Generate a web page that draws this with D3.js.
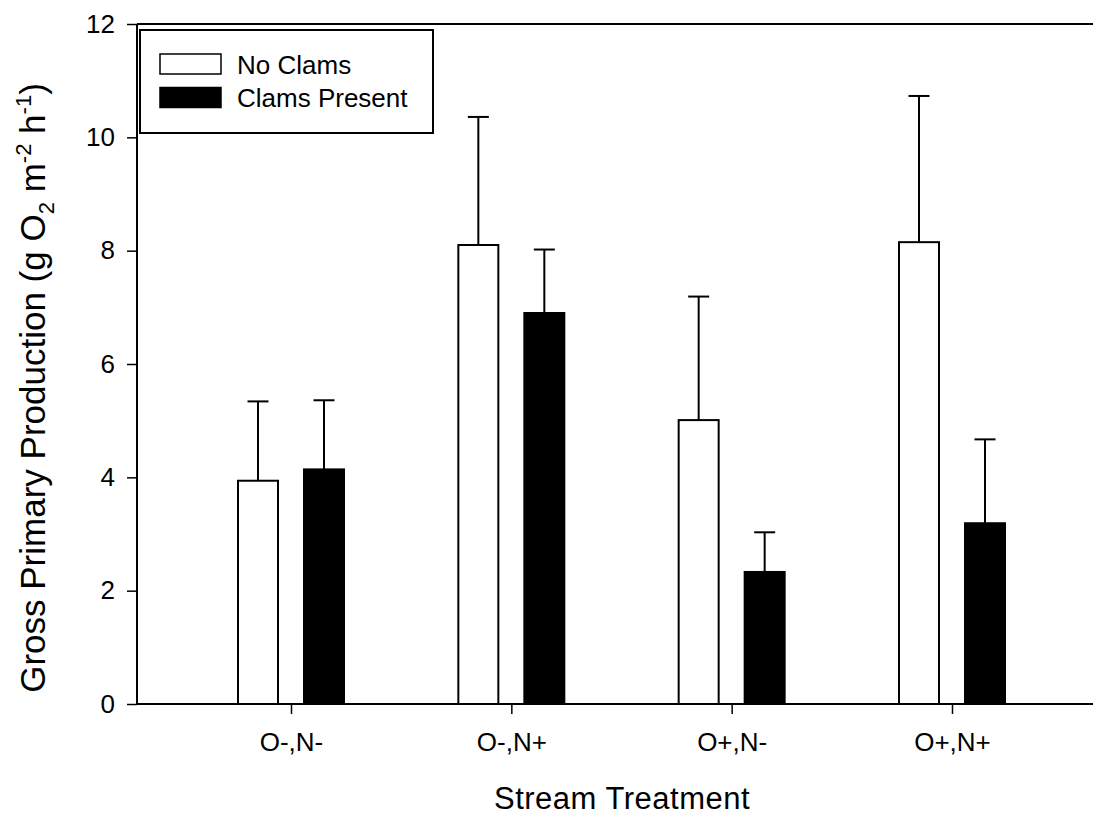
<!DOCTYPE html>
<html>
<head>
<meta charset="utf-8">
<script src="https://cdn.jsdelivr.net/npm/d3@7"></script>
<style>
  body { margin: 0; background: #fff; }
  svg { font-family: "Liberation Sans", Arial, sans-serif; }
</style>
</head>
<body>
<svg id="chart" width="1093" height="816"></svg>
<script>
// data
const categories = ["O-,N-", "O-,N+", "O+,N-", "O+,N+"];
const seriesNames = ["No Clams", "Clams Present"];
const noClams = [3.94, 8.10, 5.01, 8.15];
const noClamsErr = [1.40, 2.26, 2.18, 2.58];
const clams = [4.14, 6.90, 2.33, 3.19];
const clamsErr = [1.22, 1.12, 0.70, 1.48];
const yTicks = [0, 2, 4, 6, 8, 10, 12];

const width = 1093, height = 816;
const margin = { top: 24, right: 0, bottom: 112, left: 137 };
const fills = ["#ffffff", "#000000"];

const svg = d3.select("#chart");

const y = d3.scaleLinear([0, 12], [height - margin.bottom, margin.top]);
const x = d3.scalePoint(categories, [291, 952]);
const xSub = d3.scaleBand(seriesNames, [-53, 53]).paddingInner(26 / 66);

const rows = [];
categories.forEach((c, i) => {
  rows.push({ cat: c, s: seriesNames[0], v: noClams[i], e: noClamsErr[i] });
  rows.push({ cat: c, s: seriesNames[1], v: clams[i], e: clamsErr[i] });
});

// y axis
svg.append("g")
  .attr("transform", `translate(${margin.left},0)`)
  .call(d3.axisLeft(y).tickValues(yTicks).tickSize(10).tickPadding(12).tickFormat(d3.format("d")))
  .call(g => g.select(".domain").attr("stroke-width", 2).attr("d", `M0,${y(0)}V${y(12)}`))
  .call(g => g.selectAll(".tick line").attr("stroke-width", 1.5))
  .call(g => g.selectAll(".tick text").attr("font-size", 26).attr("fill", "#000").attr("font-family", "Liberation Sans, Arial, sans-serif"));

// x axis
svg.append("g")
  .attr("transform", `translate(0,${y(0)})`)
  .call(d3.axisBottom(x).tickSize(10).tickPadding(19))
  .call(g => g.select(".domain").attr("stroke-width", 2).attr("d", `M${margin.left},0H${width}`))
  .call(g => g.selectAll(".tick line").attr("stroke-width", 1.5))
  .call(g => g.selectAll(".tick text").attr("font-size", 26).attr("fill", "#000").attr("font-family", "Liberation Sans, Arial, sans-serif"));

// top frame line
svg.append("line")
  .attr("x1", margin.left).attr("x2", width)
  .attr("y1", y(12)).attr("y2", y(12))
  .attr("stroke", "#000").attr("stroke-width", 2);

// error bars (drawn first so bars cover the stem base)
const eb = svg.append("g").attr("stroke", "#000").attr("stroke-width", 2)
  .selectAll("g").data(rows).join("g")
  .attr("transform", d => `translate(${x(d.cat) + xSub(d.s) + xSub.bandwidth() / 2},0)`);
eb.append("line").attr("y1", d => y(d.v)).attr("y2", d => y(d.v + d.e));
eb.append("line").attr("x1", -10.5).attr("x2", 10.5)
  .attr("y1", d => y(d.v + d.e)).attr("y2", d => y(d.v + d.e));

// bars
svg.append("g").selectAll("rect").data(rows).join("rect")
  .attr("x", d => x(d.cat) + xSub(d.s))
  .attr("y", d => y(d.v))
  .attr("width", xSub.bandwidth())
  .attr("height", d => y(0) - y(d.v))
  .attr("fill", d => fills[seriesNames.indexOf(d.s)])
  .attr("stroke", "#000")
  .attr("stroke-width", 2);

// axis titles
svg.append("text")
  .attr("x", 622)
  .attr("y", 809)
  .attr("text-anchor", "middle")
  .attr("font-size", 31)
  .attr("letter-spacing", 0.5)
  .text("Stream Treatment");

const yt = svg.append("text")
  .attr("transform", `translate(45,388) rotate(-90)`)
  .attr("text-anchor", "middle")
  .attr("font-size", 35);
yt.append("tspan").text("Gross Primary Production (g O");
yt.append("tspan").attr("font-size", 22).attr("dy", 9).text("2");
yt.append("tspan").attr("dy", -9).text(" m");
yt.append("tspan").attr("font-size", 22).attr("dy", -14).text("-2");
yt.append("tspan").attr("dy", 14).text(" h");
yt.append("tspan").attr("font-size", 22).attr("dy", -14).text("-1");
yt.append("tspan").attr("dy", 14).text(")");

// legend
const lg = svg.append("g");
lg.append("rect")
  .attr("x", 140).attr("y", 30).attr("width", 293).attr("height", 103)
  .attr("fill", "#fff").attr("stroke", "#000").attr("stroke-width", 2);
const li = lg.selectAll("g.item").data(seriesNames).join("g")
  .attr("transform", (d, i) => `translate(160,${54 + i * 33.5})`);
li.append("rect")
  .attr("width", 61).attr("height", 20)
  .attr("fill", (d, i) => fills[i]).attr("stroke", "#000").attr("stroke-width", 1.5);
li.append("text")
  .attr("x", 77).attr("y", 19.5)
  .attr("font-size", 26)
  .text(d => d);
</script>
</body>
</html>
